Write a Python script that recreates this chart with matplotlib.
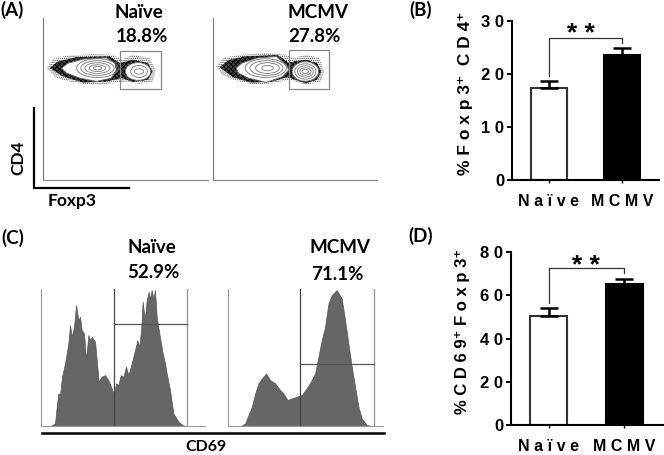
# plot.py - flow cytometry panels (A, C) and summary bars (B, D)
import matplotlib
matplotlib.use("Agg")
import matplotlib.pyplot as plt
from matplotlib.patches import Ellipse, Polygon, Rectangle

W, H = 664, 455

plt.rcParams["font.family"] = ["Lato", "DejaVu Sans"]
plt.rcParams["hatch.linewidth"] = 0.6

# Bar panels
groups = ["N a ï v e", "M C M V"]
foxp3_mean = [17.3, 23.5]
foxp3_err = [1.4, 1.3]
foxp3_bracket = [19.6, 26.7, 25.8]
foxp3_ticks = [0, 10, 20, 30]
foxp3_ticklabels = ["0", "1 0", "2 0", "3 0"]
cd69_mean = [50.5, 65.3]
cd69_err = [3.5, 2.3]
cd69_bracket = [56.4, 72.9, 70.4]
cd69_ticks = [0, 20, 40, 60, 80]
cd69_ticklabels = ["0", "2 0", "4 0", "6 0", "8 0"]

# Histograms at 3x pixel scale
naive_x = [30, 43, 48, 53, 58, 64, 73, 83, 88, 93, 100, 106, 113, 118, 123, 130, 136, 143, 148, 153,
           163, 168, 174, 183, 193, 203, 213, 220, 226, 233, 240, 248, 256, 263, 273, 283, 290, 296, 302, 306,
           312, 318, 324, 328, 333, 338, 343, 348, 356, 366, 373, 378, 388, 398, 413, 426, 433]
naive_y = [0, 8, 58, 98, 93, 148, 188, 248, 303, 268, 298, 363, 318, 328, 288, 278, 198, 273, 258, 268,
           253, 198, 133, 148, 153, 138, 113, 93, 128, 123, 153, 148, 178, 153, 188, 228, 258, 238, 298, 373,
           318, 378, 403, 383, 408, 383, 408, 328, 278, 218, 188, 158, 108, 38, 13, 3, 0]
mcmv_x = [40, 53, 63, 73, 83, 93, 103, 116, 128, 143, 158, 168, 180, 193, 208, 223, 238, 253, 263, 273,
          283, 293, 303, 313, 328, 343, 353, 363, 373, 383, 393, 403, 418, 433]
mcmv_y = [0, 8, 33, 58, 98, 128, 143, 158, 138, 128, 108, 98, 78, 83, 88, 93, 113, 138, 158, 208,
          258, 298, 368, 393, 408, 383, 318, 248, 178, 118, 58, 23, 3, 0]

# Contour plot outlines, same 3x scale
naive_speckle = [(12, 335), (32, 362), (72, 372), (152, 377), (212, 375), (237, 360), (272, 375), (322, 365),
                 (340, 330), (332, 295), (292, 288), (252, 295), (212, 290), (152, 285), (92, 292), (42, 305)]
naive_dark = [(22, 335), (47, 355), (102, 368), (202, 370), (232, 350), (272, 360), (317, 350), (330, 325),
              (317, 300), (272, 294), (237, 305), (192, 295), (122, 292), (62, 310)]
naive_drop = [(57, 335), (77, 350), (122, 362), (192, 366), (217, 350), (222, 330), (207, 305), (162, 295),
              (112, 305), (72, 320)]
mcmv_speckle = [(10, 340), (32, 365), (82, 375), (162, 380), (222, 375), (242, 365), (282, 375), (322, 365),
                (337, 325), (327, 295), (282, 285), (232, 300), (182, 290), (122, 285), (62, 300), (27, 315)]
mcmv_dark = [(20, 338), (45, 358), (95, 370), (195, 374), (228, 352), (282, 360), (315, 350), (328, 325),
             (315, 300), (280, 290), (225, 308), (175, 294), (115, 292), (60, 308)]
mcmv_drop = [(70, 335), (87, 350), (132, 365), (192, 370), (222, 345), (230, 330), (212, 310), (162, 292),
             (107, 305), (77, 320)]
naive_big_levels = [(165, 335, 125, 56), (165, 335, 100, 44), (165, 335, 75, 32), (165, 335, 50, 20), (165, 335, 25, 10)]
naive_small_levels = [(287, 325, 76, 53), (290, 325, 50, 36), (290, 325, 28, 16)]
mcmv_big_levels = [(160, 335, 125, 56), (162, 335, 100, 44), (165, 335, 72, 32), (165, 335, 35, 16)]
mcmv_small_levels = [(280, 325, 80, 58), (280, 325, 64, 46), (280, 325, 48, 34), (280, 325, 34, 22), (280, 325, 20, 12)]


def px_axes(fig, left, top, right, bottom):
    return fig.add_axes([left / W, 1 - bottom / H, (right - left) / W, (bottom - top) / H])


def px_text(fig, x, y, s, size=13.5, **kw):
    kw.setdefault("ha", "center")
    kw.setdefault("va", "center")
    kw.setdefault("fontweight", "bold")
    fig.text(x / W, 1 - y / H, s, fontsize=size, **kw)


def contour_panel(ax, speckle, dark, drop, big, small, gate):
    ax.set_xlim(0, 497)
    ax.set_ylim(0, 485)
    ax.set_xticks([])
    ax.set_yticks([])
    for side in ["top", "right"]:
        ax.spines[side].set_visible(False)
    ax.spines["left"].set_color("#777777")
    ax.spines["bottom"].set_color("#888888")
    ax.add_patch(Polygon(speckle, closed=True, facecolor="white", edgecolor="#444444", hatch="........", lw=0))
    ax.add_patch(Polygon(dark, closed=True, facecolor="#444444", edgecolor="#000000", hatch="xxxxxxx", lw=0))
    ax.add_patch(Polygon(drop, closed=True, facecolor="white", edgecolor="#666666", lw=0.7))
    for cx, cy, w, h in big:
        ax.add_patch(Ellipse((cx, cy), w, h, fill=False, edgecolor="#777777", lw=0.6))
    for i, (cx, cy, w, h) in enumerate(small):
        ax.add_patch(Ellipse((cx, cy), w, h, facecolor="white" if i == 0 else "none", edgecolor="#777777", lw=0.6))
    ax.add_patch(Rectangle(gate[:2], gate[2], gate[3], fill=False, edgecolor="#888888", lw=0.9))


def hist_panel(ax, x, y, gate_left, gate_right, gate_y):
    ax.set_xlim(0, 493 if gate_right < 440 else 466)
    ax.set_ylim(0, 413)
    ax.set_xticks([])
    ax.set_yticks([])
    for side in ["top", "right"]:
        ax.spines[side].set_visible(False)
    ax.spines["left"].set_color("#999999")
    ax.spines["bottom"].set_color("#999999")
    ax.fill_between(x, y, 0, facecolor="#666666", edgecolor="#555555", lw=0.5)
    ax.plot([gate_left, gate_left], [0, 413], color="#444444", lw=0.9)
    ax.plot([gate_right, gate_right], [0, 413], color="#999999", lw=1.0)
    ax.plot([gate_left, gate_right], [gate_y, gate_y], color="#555555", lw=0.9)


def bar_panel(ax, means, errs, bracket, ticks, ticklabels, ymax, xlim):
    pos = [0, 1]
    ax.bar(pos, means, width=0.49, color=["white", "black"], edgecolor=["#333333", "black"], linewidth=1.5)
    ax.errorbar(pos, means, yerr=[[0, 0], errs], fmt="none", ecolor="black", elinewidth=1.8,
                capsize=6.5, capthick=1.8)
    ax.plot([0, 0, 1, 1], bracket[:2] + bracket[1:], color="#333333", lw=0.9, clip_on=False)
    ax.set_xlim(*xlim)
    ax.set_ylim(0, ymax)
    ax.set_xticks(pos)
    ax.set_xticklabels(groups, family="Liberation Sans", fontweight="bold", fontsize=11.5)
    ax.set_yticks(ticks)
    ax.set_yticklabels(ticklabels, family="Liberation Sans", fontweight="bold", fontsize=12)
    ax.tick_params(axis="y", length=3.5, width=1.4, pad=2)
    ax.tick_params(axis="x", length=2, width=1.0, pad=8)
    for side in ["top", "right"]:
        ax.spines[side].set_visible(False)
    for side in ["left", "bottom"]:
        ax.spines[side].set_linewidth(1.5)
    ax.patch.set_alpha(0)


def main():
    fig = plt.figure(figsize=(W / 100, H / 100), dpi=100)

    # (A) contour plots
    ax = px_axes(fig, 42.5, 18, 208, 180)
    contour_panel(ax, naive_speckle, naive_dark, naive_drop, naive_big_levels, naive_small_levels,
                  (233, 272, 123, 115))
    ax = px_axes(fig, 213, 18, 377, 180)
    contour_panel(ax, mcmv_speckle, mcmv_dark, mcmv_drop, mcmv_big_levels, mcmv_small_levels,
                  (230, 272, 123, 116))

    # (C) histograms
    ax = px_axes(fig, 40.7, 288.5, 205, 426)
    hist_panel(ax, naive_x, naive_y, 219, 438, 305)
    ax = px_axes(fig, 227.5, 288.5, 382.7, 426)
    hist_panel(ax, mcmv_x, mcmv_y, 217, 440, 185)

    # (B), (D) bars
    ax = px_axes(fig, 511.7, 20.7, 659, 180.3)
    bar_panel(ax, foxp3_mean, foxp3_err, foxp3_bracket, foxp3_ticks, foxp3_ticklabels, 30, (-0.51, 1.508))
    ax = px_axes(fig, 510.7, 252.3, 663, 425)
    bar_panel(ax, cd69_mean, cd69_err, cd69_bracket, cd69_ticks, cd69_ticklabels, 80, (-0.5, 1.51))

    # Thick scale lines
    overlay = px_axes(fig, 0, 0, W, H)
    overlay.set_xlim(0, W)
    overlay.set_ylim(H, 0)
    overlay.axis("off")
    overlay.patch.set_alpha(0)
    overlay.plot([34, 34, 129], [108, 187.5, 187.5], color="black", lw=1.6, solid_joinstyle="miter")
    overlay.plot([42, 384], [432.7, 432.7], color="black", lw=1.8)

    # Stars
    for x, y in [(581, 34), (586, 266)]:
        px_text(fig, x, y, "* *", size=19, family="Liberation Sans")

    # Labels
    px_text(fig, 139, 13, "Naïve")
    px_text(fig, 142, 37, "18.8%")
    px_text(fig, 318, 13, "MCMV")
    px_text(fig, 314, 37, "27.8%")
    px_text(fig, 152, 248, "Naïve")
    px_text(fig, 153, 273, "52.9%")
    px_text(fig, 340, 248, "MCMV")
    px_text(fig, 337, 275, "71.1%")
    px_text(fig, 206, 447, "CD69", size=11.5)
    px_text(fig, 18, 158, "CD4", size=12.5, rotation=90)
    px_text(fig, 72, 201, "Foxp3", size=12.5)
    px_text(fig, 12, 10, "(A)", size=13.5)
    px_text(fig, 421, 10, "(B)", size=13.5)
    px_text(fig, 13, 238, "(C)", size=13.5)
    px_text(fig, 421, 236, "(D)", size=13.5)

    sup_fonts = ["Liberation Sans", "DejaVu Sans"]
    px_text(fig, 465, 93.5, "% F o x p 3⁺  C D 4⁺", size=12.5, rotation=90, family=sup_fonts)
    px_text(fig, 463, 331, "% C D 6 9⁺ F o x p 3⁺", size=12, rotation=90, family=sup_fonts)

    fig.savefig("out.png", dpi=100, facecolor="white")
    plt.close(fig)


if __name__ == "__main__":
    main()
